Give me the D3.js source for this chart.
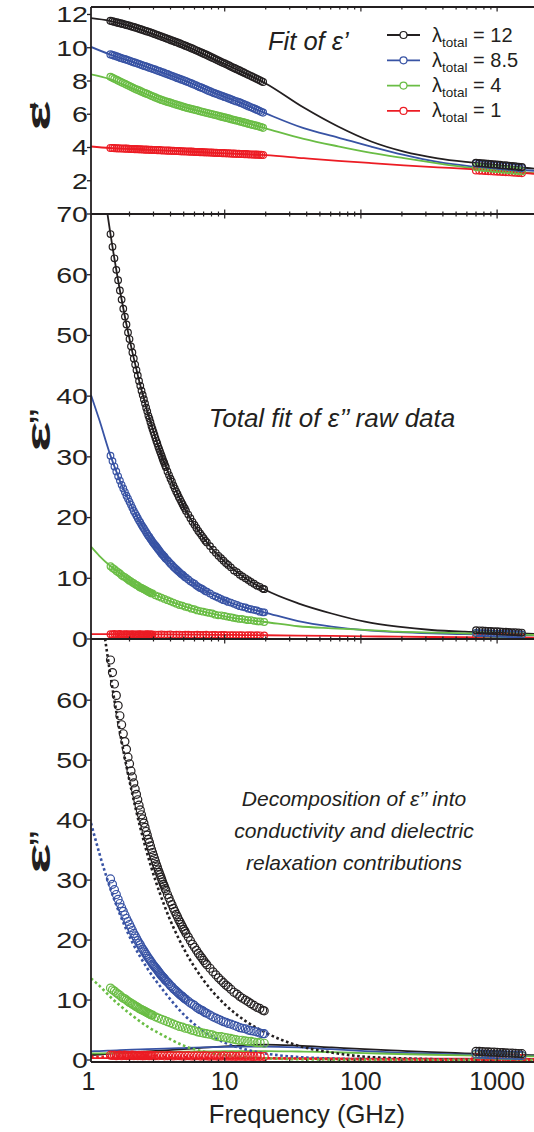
<!DOCTYPE html>
<html>
<head>
<meta charset="utf-8">
<script src="https://cdnjs.cloudflare.com/ajax/libs/d3/7.8.5/d3.min.js"></script>
<style>
body { margin: 0; background: #fff; }
svg text { font-family: "Liberation Sans", Arial, sans-serif; fill: #231f20; }
</style>
</head>
<body>
<script>
// ---- data ----
var series = ["12", "8.5", "4", "1"];          // lambda_total
var colors = ["#231f20", "#3853a4", "#6abd45", "#ec1c24"];

// eps' raw data (GHz)
var freqEps = [1.45,1.50,1.55,1.61,1.66,1.72,1.78,1.85,1.91,1.98,2.05,2.12,2.19,2.27,2.35,2.43,2.51,2.60,2.69,2.79,
  2.89,2.99,3.09,3.20,3.31,3.43,3.55,3.67,3.80,3.93,4.07,4.21,4.36,4.51,4.67,4.83,5.00,5.18,5.36,5.55,
  5.74,5.94,6.15,6.36,6.59,6.82,7.06,7.30,7.56,7.82,8.10,8.38,8.67,8.98,9.29,9.62,9.95,10.3,10.7,11.0,
  11.4,11.8,12.2,12.7,13.1,13.6,14.0,14.5,15.0,15.6,16.1,16.7,17.3,17.9,18.5,19.1];
var eps_12 = [11.62,11.59,11.56,11.52,11.49,11.46,11.43,11.39,11.36,11.33,11.29,11.26,11.22,11.18,11.14,11.10,11.06,11.02,10.98,10.94,
  10.90,10.85,10.81,10.76,10.72,10.67,10.63,10.58,10.54,10.49,10.44,10.40,10.35,10.31,10.26,10.21,10.16,10.11,10.06,10.01,
  9.96,9.91,9.85,9.80,9.74,9.69,9.63,9.58,9.52,9.46,9.40,9.35,9.29,9.23,9.17,9.11,9.06,9.00,8.94,8.88,
  8.82,8.77,8.71,8.65,8.59,8.53,8.48,8.42,8.36,8.30,8.24,8.18,8.12,8.06,8.00,7.94];
var eps_85 = [9.60,9.56,9.52,9.48,9.44,9.39,9.35,9.31,9.27,9.23,9.18,9.14,9.10,9.06,9.02,8.97,8.93,8.89,8.85,8.80,
  8.76,8.72,8.68,8.63,8.59,8.54,8.50,8.45,8.41,8.36,8.31,8.27,8.22,8.17,8.13,8.08,8.04,7.99,7.94,7.89,
  7.84,7.79,7.74,7.68,7.63,7.58,7.53,7.48,7.42,7.37,7.32,7.27,7.23,7.18,7.13,7.09,7.04,7.00,6.95,6.91,
  6.86,6.81,6.77,6.73,6.68,6.63,6.58,6.53,6.47,6.42,6.37,6.32,6.26,6.21,6.15,6.10];
var eps_4 = [8.25,8.19,8.13,8.07,8.01,7.95,7.89,7.83,7.77,7.71,7.65,7.59,7.53,7.48,7.43,7.37,7.32,7.27,7.22,7.17,
  7.11,7.06,7.01,6.96,6.91,6.86,6.82,6.78,6.74,6.71,6.67,6.63,6.59,6.55,6.52,6.48,6.44,6.40,6.37,6.34,
  6.31,6.28,6.25,6.22,6.18,6.15,6.12,6.09,6.06,6.03,6.00,5.97,5.94,5.91,5.87,5.84,5.81,5.78,5.75,5.71,
  5.68,5.65,5.62,5.59,5.55,5.52,5.49,5.46,5.42,5.39,5.36,5.33,5.30,5.26,5.23,5.18];
var eps_1 = [3.97,3.97,3.96,3.95,3.95,3.94,3.94,3.93,3.93,3.92,3.91,3.91,3.90,3.90,3.89,3.89,3.88,3.87,3.87,3.86,
  3.86,3.85,3.85,3.84,3.84,3.83,3.82,3.82,3.81,3.81,3.80,3.80,3.79,3.79,3.78,3.77,3.77,3.76,3.76,3.75,
  3.75,3.74,3.73,3.73,3.72,3.72,3.71,3.71,3.70,3.70,3.69,3.68,3.68,3.67,3.67,3.66,3.66,3.65,3.65,3.64,
  3.63,3.63,3.62,3.62,3.61,3.61,3.60,3.60,3.59,3.58,3.58,3.57,3.57,3.56,3.56,3.55];

// THz data (GHz)
var freqTHz = [700,740,780,820,860,900,950,1000,1050,1100,1160,1220,1290,1360,1440,1520];
var epsTHz_12 = [3.08,3.06,3.05,3.03,3.02,3.00,2.98,2.97,2.95,2.93,2.92,2.90,2.88,2.86,2.84,2.82];
var epsTHz_85 = [3.04,3.02,3.00,2.98,2.97,2.95,2.93,2.91,2.89,2.87,2.86,2.84,2.82,2.80,2.78,2.76];
var epsTHz_4 = [2.82,2.80,2.79,2.77,2.76,2.74,2.72,2.71,2.69,2.67,2.66,2.64,2.62,2.61,2.59,2.57];
var epsTHz_1 = [2.62,2.61,2.60,2.59,2.58,2.57,2.56,2.55,2.54,2.53,2.52,2.51,2.50,2.48,2.47,2.46];

// eps' fits
var fitFreqEps = [1.043,1.43,2.17,3.31,5.22,8.4,13.2,20,38,68,119,207,366,638,1110,1866];
var epsFit_12 = [11.78,11.62,11.21,10.69,10.08,9.30,8.57,7.85,6.40,5.26,4.36,3.75,3.35,3.10,2.90,2.73];
var epsFit_85 = [10.05,9.60,9.10,8.58,7.98,7.28,6.67,6.05,5.16,4.60,4.05,3.55,3.13,2.87,2.72,2.60];
var epsFit_4 = [8.40,8.12,7.50,6.90,6.38,5.97,5.56,5.15,4.52,4.07,3.68,3.36,3.05,2.78,2.58,2.45];
var epsFit_1 = [4.06,3.97,3.90,3.83,3.76,3.68,3.61,3.54,3.36,3.20,3.06,2.93,2.81,2.70,2.57,2.42];

// eps'' raw data (GHz): dense sweep for the two steep series
var freqLossDense = [1.45,1.50,1.55,1.60,1.65,1.70,1.75,1.80,1.85,1.90,1.95,2.00,2.05,2.10,2.15,2.20,2.25,2.30,2.35,2.40,
  2.45,2.50,2.55,2.60,2.65,2.70,2.75,2.80,2.85,2.90,2.95,3.00,3.05,3.10,3.15,3.20,3.25,3.30,3.35,3.40,
  3.45,3.50,3.55,3.60,3.65,3.70,
  3.8,3.9,4.0,4.1,4.2,4.3,4.4,4.5,4.6,4.7,4.8,4.9,5.0,5.1,5.2,
  5.4,5.6,5.8,6.0,6.2,6.4,6.6,6.8,7.0,7.2,7.4,
  7.8,8.2,8.6,9.0,9.4,9.8,10.2,10.6,
  11.1,11.7,12.3,12.9,13.5,14.2,14.9,15.6,16.4,17.2,18.1,19.0,19.5];
var loss_12 = [66.7,64.6,62.7,60.8,59.1,57.4,55.9,54.4,53.1,51.8,50.5,49.4,48.2,47.2,46.2,45.2,44.3,43.4,42.5,41.7,
  40.9,40.2,39.5,38.8,38.1,37.5,36.8,36.3,35.7,35.1,34.6,34.1,33.6,33.1,32.6,32.2,31.7,31.3,30.9,30.5,
  30.1,29.7,29.3,29.0,28.6,28.3,
  27.6,27.0,26.4,25.9,25.3,24.8,24.3,23.9,23.4,23.0,22.6,22.2,21.8,21.5,21.1,
  20.5,19.9,19.3,18.8,18.3,17.8,17.4,17.0,16.6,16.2,15.9,
  15.3,14.7,14.2,13.7,13.3,12.9,12.5,12.2,
  11.8,11.3,11.0,10.6,10.3,10.0,9.7,9.4,9.1,8.8,8.6,8.3,8.2];
var loss_85 = [30.2,29.3,28.4,27.6,26.8,26.1,25.4,24.8,24.2,23.6,23.1,22.6,22.1,21.6,21.1,20.7,20.3,19.9,19.5,19.2,
  18.8,18.5,18.2,17.9,17.6,17.3,17.0,16.8,16.5,16.3,16.0,15.8,15.6,15.4,15.2,15.0,14.8,14.6,14.4,14.2,
  14.0,13.9,13.7,13.6,13.4,13.2,
  13.0,12.7,12.4,12.2,11.9,11.7,11.5,11.3,11.1,10.9,10.7,10.6,10.4,10.2,10.1,
  9.8,9.5,9.3,9.1,8.8,8.6,8.4,8.3,8.1,7.9,7.8,
  7.5,7.2,7.0,6.8,6.6,6.4,6.3,6.1,
  6.0,5.8,5.6,5.4,5.3,5.2,5.0,4.9,4.8,4.7,4.5,4.4,4.4];

// eps'' raw data (GHz): the two flatter series
var freqLoss = [1.45,1.50,1.55,1.60,1.65,1.70,1.75,1.80,1.85,1.90,1.95,2.00,2.05,2.10,2.15,2.20,2.25,2.30,2.35,2.40,
  2.45,2.50,2.55,2.60,2.65,2.70,2.75,2.80,2.85,2.90,2.95,
  3.10,3.26,3.43,3.61,3.80,3.99,4.20,4.42,4.65,4.89,5.14,5.41,5.69,5.98,6.29,6.62,6.96,7.32,7.70,
  8.10,8.52,8.96,9.43,9.92,10.4,11.0,11.5,12.1,12.8,13.4,14.1,14.8,15.6,16.4,17.3,18.2,19.5];
var loss_4 = [12.0,11.7,11.5,11.2,11.0,10.8,10.5,10.3,10.2,10.0,9.8,9.6,9.5,9.3,9.2,9.0,8.9,8.8,8.6,8.5,
  8.4,8.3,8.2,8.1,8.0,7.9,7.8,7.7,7.6,7.5,7.5,
  7.2,7.0,6.8,6.6,6.4,6.2,6.0,5.8,5.6,5.5,5.3,5.2,5.0,4.9,4.7,4.6,4.5,4.4,4.3,
  4.2,4.0,3.9,3.9,3.8,3.7,3.6,3.5,3.4,3.3,3.3,3.2,3.1,3.1,3.0,2.9,2.9,2.8];
var loss_1 = [0.80,0.75,0.83,0.73,0.78,0.82,0.71,0.77,0.80,0.74,0.79,0.72,0.76,0.81,0.73,0.77,0.75,0.71,0.78,0.74,
  0.76,0.70,0.77,0.73,0.75,0.79,0.71,0.74,0.76,0.72,0.75,
  0.73,0.71,0.75,0.70,0.72,0.74,0.69,0.71,0.73,0.68,0.70,0.72,0.67,0.69,0.71,0.66,0.68,0.70,0.65,
  0.67,0.69,0.64,0.66,0.68,0.63,0.65,0.64,0.62,0.65,0.63,0.61,0.64,0.62,0.60,0.63,0.61,0.59];
var lossTHz_12 = [1.45,1.43,1.40,1.38,1.35,1.33,1.30,1.28,1.25,1.22,1.20,1.17,1.14,1.12,1.09,1.06];
var lossTHz_85 = [1.00,0.98,0.97,0.95,0.93,0.92,0.90,0.88,0.87,0.85,0.83,0.82,0.80,0.78,0.77,0.75];
var lossTHz_4 = [0.95,0.93,0.92,0.90,0.88,0.87,0.85,0.83,0.82,0.80,0.78,0.77,0.75,0.73,0.72,0.70];
var lossTHz_1 = [0.35,0.34,0.34,0.33,0.33,0.32,0.31,0.31,0.30,0.29,0.29,0.28,0.27,0.27,0.26,0.25];

// eps'' total fits, conductivity (dotted) and relaxation (solid) parts
var fitFreqLoss = [1.043,1.2,1.45,1.7,2.1,2.7,3.6,5.0,7.0,10,14,19.8,34.6,60.9,107,187,330,578,1010,1866];
var lossFit_12 = [91.4,79.9,66.7,57.4,47.2,37.5,29.0,21.8,16.6,12.7,10.1,8.1,5.87,4.2,2.85,2.03,1.48,1.2,1.04,0.85];
var lossFit_85 = [40.2,36.1,30.2,26.1,21.6,17.3,13.55,10.4,8.1,6.35,5.2,4.35,2.95,2.05,1.45,1.12,0.92,0.8,0.7,0.6];
var lossFit_4 = [15.2,13.7,12.0,10.8,9.3,7.9,6.6,5.4,4.5,3.74,3.2,2.8,2.1,1.76,1.5,1.2,1.05,0.94,0.8,0.66];
var lossFit_1 = [0.80,0.80,0.79,0.79,0.78,0.77,0.75,0.73,0.71,0.68,0.65,0.62,0.56,0.50,0.44,0.38,0.33,0.29,0.26,0.23];

var cond_12 = [89.2,77.5,64.1,54.7,44.3,34.4,25.8,18.6,13.3,9.3,6.6,4.6,2.4,1.25,0.55,0.3,0.15,0.08,0.05,0.03];
var cond_85 = [39.5,34.5,28.5,24.3,19.6,15.3,11.4,7.6,4.8,2.9,1.8,1.1,0.5,0.25,0.14,0.08,0.05,0.03,0.02,0.01];
var cond_4 = [13.6,12.4,10.5,9.1,7.4,5.6,4.0,2.4,1.4,0.85,0.5,0.3,0.13,0.07,0.04,0.02,0.01,0.01,0,0];
var cond_1 = [0.55,0.55,0.54,0.53,0.52,0.50,0.48,0.45,0.42,0.38,0.34,0.30,0.24,0.18,0.13,0.09,0.06,0.04,0.03,0.02];

var relax_12 = [0.82,0.92,1.05,1.15,1.28,1.42,1.60,1.82,2.05,2.28,2.45,2.58,2.40,2.10,1.80,1.55,1.30,1.12,0.95,0.80];
var relax_85 = [1.45,1.50,1.58,1.64,1.72,1.80,1.90,2.00,2.10,2.20,2.25,2.25,2.10,1.80,1.50,1.25,1.05,0.90,0.78,0.65];
var relax_4 = [1.10,1.12,1.15,1.18,1.22,1.27,1.32,1.38,1.43,1.48,1.50,1.50,1.42,1.30,1.15,1.00,0.88,0.78,0.70,0.60];
var relax_1 = [0.30,0.30,0.30,0.30,0.30,0.30,0.30,0.29,0.29,0.28,0.28,0.27,0.26,0.25,0.24,0.23,0.22,0.21,0.20,0.19];

var epsData = [eps_12, eps_85, eps_4, eps_1];
var epsTHz = [epsTHz_12, epsTHz_85, epsTHz_4, epsTHz_1];
var epsFit = [epsFit_12, epsFit_85, epsFit_4, epsFit_1];
var lossData = [loss_12, loss_85, loss_4, loss_1];
var lossFreq = [freqLossDense, freqLossDense, freqLoss, freqLoss];
var lossTHz = [lossTHz_12, lossTHz_85, lossTHz_4, lossTHz_1];
var lossFit = [lossFit_12, lossFit_85, lossFit_4, lossFit_1];
var condFit = [cond_12, cond_85, cond_4, cond_1];
var relaxFit = [relax_12, relax_85, relax_4, relax_1];

var epsTicks = [2, 4, 6, 8, 10, 12];
var lossTicks = [0, 10, 20, 30, 40, 50, 60, 70];
var decTicks = [0, 10, 20, 30, 40, 50, 60];
var freqTicks = [1, 10, 100, 1000];

// ---- scales ----
var svg = d3.select("body").append("svg").attr("width", 534).attr("height", 1132);

var x = d3.scaleLog().domain([1.043, 1866]).range([91, 534]);
var yEps = d3.scaleLinear().domain([0, 12.45]).range([214, 7]);
var yLoss = d3.scaleLinear().domain([0, 70]).range([639, 214]);
var yDec = d3.scaleLinear().domain([-0.33, 70.2]).range([1062, 639]);

function panel(id, y) {
	svg.append("clipPath").attr("id", id).append("rect")
		.attr("x", 91).attr("y", y.range()[1])
		.attr("width", 460).attr("height", y.range()[0] - y.range()[1]);
	return svg.append("g").attr("clip-path", "url(#" + id + ")");
}

function drawLine(g, y, freqs, vals, color, width, dash) {
	var pts = freqs.map(function(f, i){ return [x(f), y(vals[i])]; });
	g.append("path")
		.attr("d", d3.line().curve(d3.curveMonotoneX)(pts))
		.attr("fill", "none")
		.attr("stroke", color)
		.attr("stroke-width", width)
		.attr("stroke-dasharray", dash || null);
}

function drawPoints(g, y, freqs, vals, color, r) {
	g.append("g").selectAll("circle")
		.data(vals)
		.enter()
		.append("circle")
		.attr("cx", function(d, i){ return x(freqs[i]); })
		.attr("cy", function(d){ return y(d); })
		.attr("r", r)
		.attr("fill", "none")
		.attr("stroke", color)
		.attr("stroke-width", 1.2);
}

// panel 1 : eps'
var g1 = panel("clip1", yEps);
for (var s = 0; s < 4; s++) drawLine(g1, yEps, fitFreqEps, epsFit[s], colors[s], 1.8);
for (var s = 3; s >= 0; s--) {
	drawPoints(g1, yEps, freqEps, epsData[s], colors[s], 3.5);
	drawPoints(g1, yEps, freqTHz, epsTHz[s], colors[s], 3.5);
}

// panel 2 : eps'' total fit
var g2 = panel("clip2", yLoss);
for (var s = 0; s < 4; s++) drawLine(g2, yLoss, fitFreqLoss, lossFit[s], colors[s], 1.8);
for (var s = 3; s >= 0; s--) {
	drawPoints(g2, yLoss, lossFreq[s], lossData[s], colors[s], 3.3);
	drawPoints(g2, yLoss, freqTHz, lossTHz[s], colors[s], 3.3);
}

// panel 3 : decomposition
var g3 = panel("clip3", yDec);
for (var s = 0; s < 4; s++) drawLine(g3, yDec, fitFreqLoss, relaxFit[s], colors[s], 1.8);
for (var s = 0; s < 4; s++) drawLine(g3, yDec, fitFreqLoss, condFit[s], colors[s], 2.6, "2.6 2.6");
for (var s = 3; s >= 0; s--) {
	drawPoints(g3, yDec, lossFreq[s], lossData[s], colors[s], 4);
	drawPoints(g3, yDec, freqTHz, lossTHz[s], colors[s], 4);
}

// ---- axes ----
var ax = svg.append("g").attr("stroke", "#231f20").attr("fill", "none");
ax.append("line").attr("x1", 91).attr("x2", 91).attr("y1", yEps.range()[1]).attr("y2", yDec.range()[0]).attr("stroke-width", 1.8);

var hAxes = [
	{y: yEps.range()[1], up: 0, down: 1},
	{y: yLoss.range()[1], up: 1, down: 1},
	{y: yLoss.range()[0], up: 1, down: 1},
	{y: yDec.range()[0], up: 1, down: 0}
];
var xt = x.ticks();
hAxes.forEach(function(a){
	ax.append("line").attr("x1", 91).attr("x2", 534).attr("y1", a.y).attr("y2", a.y).attr("stroke-width", 1.8);
	ax.selectAll(null).data(xt).enter().append("line")
		.attr("x1", function(d){ return x(d); })
		.attr("x2", function(d){ return x(d); })
		.attr("y1", function(d){ var l = freqTicks.indexOf(d) >= 0 ? 4.5 : 2.5; return a.y - l * a.up; })
		.attr("y2", function(d){ var l = freqTicks.indexOf(d) >= 0 ? 4.5 : 2.5; return a.y + l * a.down; })
		.attr("stroke-width", 1.2);
});

function yAxis(y, ticks) {
	ax.selectAll(null).data(ticks).enter().append("line")
		.attr("x1", 87).attr("x2", 91)
		.attr("y1", function(d){ return y(d); })
		.attr("y2", function(d){ return y(d); })
		.attr("stroke-width", 1.3);
	svg.append("g").selectAll("text").data(ticks).enter().append("text")
		.attr("transform", function(d){ return "translate(88," + (y(d) + 7.8) + ") scale(1.3,1)"; })
		.attr("text-anchor", "end")
		.style("font-size", "22px")
		.text(function(d){ return d; });
}
yAxis(yEps, epsTicks);
yAxis(yLoss, lossTicks);
yAxis(yDec, decTicks);

svg.append("g").selectAll("text").data(freqTicks).enter().append("text")
	.attr("x", function(d){ return x(d); })
	.attr("y", 1090)
	.attr("text-anchor", "middle")
	.style("font-size", "25px")
	.text(function(d){ return d; });

svg.append("text").attr("x", 307).attr("y", 1123).attr("text-anchor", "middle")
	.style("font-size", "25.6px").text("Frequency (GHz)");

// y titles
function yTitle(yBottom, yPrime, primes) {
	svg.append("text")
		.attr("transform", "translate(50," + yBottom + ") rotate(-90) scale(1.9,1)")
		.style("font-size", "34px").style("font-weight", "bold")
		.text("\u03b5");
	svg.append("text")
		.attr("transform", "translate(50," + yPrime + ") rotate(-90)")
		.style("font-size", "30px").style("font-weight", "bold")
		.text(primes);
}
yTitle(131, 110, "\u2019");
yTitle(452, 424, "\u2019\u2019");
yTitle(874, 846, "\u2019\u2019");

// annotations
svg.append("text").attr("x", 268).attr("y", 50).style("font-size", "25.5px").style("font-style", "italic")
	.text("Fit of \u03b5\u2019");
svg.append("text").attr("x", 332).attr("y", 427).attr("text-anchor", "middle")
	.style("font-size", "26px").style("font-style", "italic")
	.text("Total fit of \u03b5\u2019\u2019 raw data");
var decLines = ["Decomposition of \u03b5\u2019\u2019 into", "conductivity and dielectric", "relaxation contributions"];
svg.append("g").selectAll("text").data(decLines).enter().append("text")
	.attr("x", 354).attr("y", function(d, i){ return 806 + i * 32; })
	.attr("text-anchor", "middle")
	.style("font-size", "21px").style("font-style", "italic")
	.text(function(d){ return d; });

// legend
var leg = svg.append("g").selectAll("g").data(series).enter().append("g")
	.attr("transform", function(d, i){ return "translate(0," + (35 + i * 25.3) + ")"; });
leg.append("line").attr("x1", 387).attr("x2", 420).attr("stroke", function(d, i){ return colors[i]; }).attr("stroke-width", 1.8);
leg.append("circle").attr("cx", 403.5).attr("r", 3.5).attr("fill", "#fff")
	.attr("stroke", function(d, i){ return colors[i]; }).attr("stroke-width", 1.2);
var lt = leg.append("text").attr("x", 432).attr("y", 6.5).style("font-size", "20px");
lt.append("tspan").text("\u03bb");
lt.append("tspan").attr("dy", 5).style("font-size", "13.5px").text("total");
lt.append("tspan").attr("dy", -5).text(function(d){ return " = " + d; });
</script>
</body>
</html>
